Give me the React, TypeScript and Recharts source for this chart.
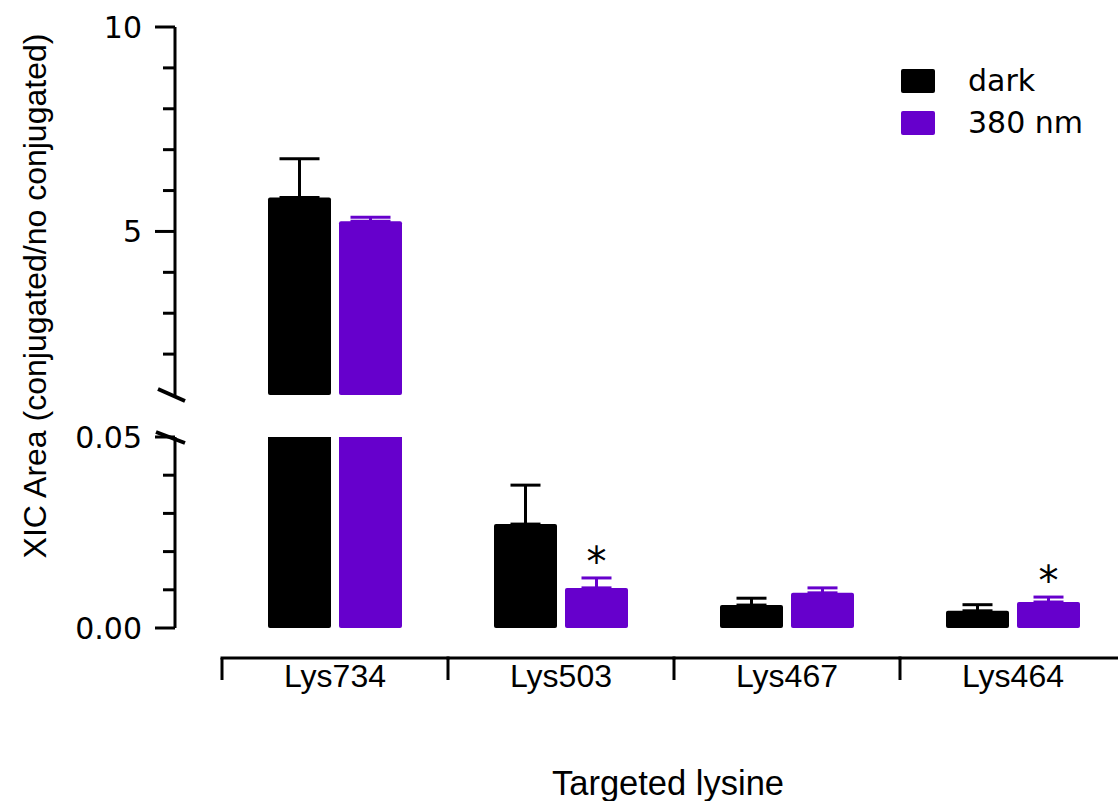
import { BarChart, Bar, XAxis, YAxis, ErrorBar, Legend, LabelList } from 'recharts'

const lysines = ['Lys734', 'Lys503', 'Lys467', 'Lys464']
const darkMean = [5.83, 0.0272, 0.006, 0.0045]
const darkSem = [0.95, 0.0102, 0.0018, 0.0016]
const nm380Mean = [5.25, 0.0105, 0.0092, 0.0068]
const nm380Sem = [0.1, 0.0026, 0.0013, 0.0013]
const nm380Signif = [false, true, false, true]

// broken y axis: upper segment 1..10, lower segment 0..0.05
const upperTicks = [1, 2, 3, 4, 5, 6, 7, 8, 9, 10]
const upperLabelled = [5, 10]
const lowerTicks = [0, 0.01, 0.02, 0.03, 0.04, 0.05]
const lowerLabelled = [0, 0.05]

const UPPER_MIN = upperTicks[0]

const data = lysines.map((name, i) => ({
  name,
  dark: darkMean[i],
  darkErr: [0, darkSem[i]],
  nm380: nm380Mean[i],
  nm380Err: [0, nm380Sem[i]],
}))

// error bars only where the bar reaches the upper segment
const upperData = data.map((d) => ({
  ...d,
  darkErr: d.dark > UPPER_MIN ? d.darkErr : undefined,
  nm380Err: d.nm380 > UPPER_MIN ? d.nm380Err : undefined,
}))

const PURPLE = '#6600cc'
const TICK_FONT = '"DejaVu Sans", Verdana, sans-serif'
const LABEL_FONT = '"Liberation Sans", Arial, sans-serif'
const W = 1130
const H = 801
const YAXIS_W = 175
const PAD_LEFT = 47

function UpperTick(props: any) {
  const { x, y, payload } = props
  const v = payload.value
  if (v === UPPER_MIN) {
    // axis break mark
    return <line x1={x - 17} y1={y - 6} x2={x + 10} y2={y + 6} stroke="#000" strokeWidth={4} />
  }
  const major = upperLabelled.includes(v)
  return (
    <g>
      <line x1={x - (major ? 20 : 12)} y1={y} x2={x} y2={y} stroke="#000" strokeWidth={3} />
      {major && (
        <text x={x - 33} y={y} dy="0.36em" textAnchor="end" fontSize={30} fontFamily={TICK_FONT} fill="#000">
          {v}
        </text>
      )}
    </g>
  )
}

function LowerTick(props: any) {
  const { x, y, payload } = props
  const v = payload.value
  const major = lowerLabelled.includes(v)
  const isTop = v === lowerTicks[lowerTicks.length - 1]
  return (
    <g>
      <line x1={x - (major ? 20 : 12)} y1={y} x2={x} y2={y} stroke="#000" strokeWidth={3} />
      {isTop && <line x1={x - 19} y1={y - 5} x2={x + 10} y2={y + 6} stroke="#000" strokeWidth={4} />}
      {major && (
        <text x={x - 33} y={y} dy="0.36em" textAnchor="end" fontSize={30} fontFamily={TICK_FONT} fill="#000">
          {v.toFixed(2)}
        </text>
      )}
    </g>
  )
}

function LysineTick(props: any) {
  const { x, y, payload } = props
  const half = payload.offset || 113
  const lineY = y + 30
  return (
    <g>
      <line x1={x - half} y1={lineY} x2={x + half} y2={lineY} stroke="#000" strokeWidth={3} strokeLinecap="square" />
      <line x1={x - half} y1={lineY} x2={x - half} y2={lineY + 22} stroke="#000" strokeWidth={3} />
      <text x={x} y={lineY + 29} textAnchor="middle" fontSize={32} fontFamily={LABEL_FONT} fill="#000">
        {payload.value}
      </text>
    </g>
  )
}

function StarLabel(props: any) {
  const vb = props.viewBox ?? props
  const { x, y, width, height } = vb
  const idx = props.index ?? nm380Mean.indexOf(props.value)
  if (!nm380Signif[idx]) return null
  const pxPerUnit = height / nm380Mean[idx]
  const capY = y - nm380Sem[idx] * pxPerUnit
  return (
    <text x={x + width / 2} y={capY - 2} textAnchor="middle" fontSize={40} fontFamily={TICK_FONT} fill="#000">
      *
    </text>
  )
}

function YTitle() {
  return (
    <text transform="translate(46,296) rotate(-90)" textAnchor="middle" fontSize={32} fontFamily={LABEL_FONT} fill="#000">
      XIC Area (conjugated/no conjugated)
    </text>
  )
}

function XTitle(props: any) {
  const vb = props.viewBox
  const cx = vb.x + PAD_LEFT + (vb.width - PAD_LEFT) / 2 - 6
  return (
    <text x={cx} y={795} textAnchor="middle" fontSize={34.5} fontFamily={LABEL_FONT} fill="#000">
      Targeted lysine
    </text>
  )
}

function LegendBox(props: any) {
  const { payload } = props
  return (
    <div style={{ fontFamily: TICK_FONT, fontSize: 30, color: '#000' }}>
      {(payload || []).map((entry: any) => (
        <div key={entry.value} style={{ display: 'flex', alignItems: 'center', height: 42 }}>
          <span style={{ display: 'inline-block', width: 34, height: 24, background: entry.color, borderRadius: 2, marginRight: 33 }} />
          <span style={{ lineHeight: '42px' }}>{entry.value}</span>
        </div>
      ))}
    </div>
  )
}

export default function App() {
  return (
    <div style={{ position: 'fixed', top: 0, left: 0, width: 1118, height: 801, overflow: 'hidden', background: '#fff' }}>
      <div style={{ position: 'absolute', top: 0, left: 0 }}>
        <BarChart width={W} height={H} data={upperData} margin={{ top: 27, right: 4, bottom: 406, left: 0 }} barSize={63} barGap={8}>
          <XAxis dataKey="name" hide padding={{ left: PAD_LEFT, right: 0 }} />
          <YAxis
            type="number"
            domain={[UPPER_MIN, 10]}
            ticks={upperTicks}
            interval={0}
            allowDataOverflow
            width={YAXIS_W}
            tickSize={0}
            tickMargin={0}
            tickLine={false}
            axisLine={{ stroke: '#000', strokeWidth: 3 }}
            tick={<UpperTick />}
            label={<YTitle />}
          />
          <Legend
            layout="vertical"
            align="center"
            verticalAlign="middle"
            itemSorter="dataKey"
            content={<LegendBox />}
            wrapperStyle={{ left: 901, top: 60, right: 'auto', bottom: 'auto', width: 220 }}
          />
          <Bar dataKey="dark" name="dark" fill="#000" radius={2} isAnimationActive={false}>
            <ErrorBar dataKey="darkErr" width={20} strokeWidth={3} stroke="#000" direction="y" />
          </Bar>
          <Bar dataKey="nm380" name="380 nm" fill={PURPLE} radius={2} isAnimationActive={false}>
            <ErrorBar dataKey="nm380Err" width={20} strokeWidth={3} stroke={PURPLE} direction="y" />
          </Bar>
        </BarChart>
      </div>
      <div style={{ position: 'absolute', top: 0, left: 0 }}>
        <BarChart width={W} height={H} data={data} margin={{ top: 437, right: 4, bottom: 0, left: 0 }} barSize={63} barGap={8}>
          <XAxis
            dataKey="name"
            padding={{ left: PAD_LEFT, right: 0 }}
            height={173}
            interval={0}
            tickSize={0}
            tickMargin={0}
            tickLine={false}
            axisLine={false}
            tick={<LysineTick />}
            label={<XTitle />}
          />
          <YAxis
            type="number"
            domain={[0, 0.05]}
            ticks={lowerTicks}
            interval={0}
            allowDataOverflow
            width={YAXIS_W}
            tickSize={0}
            tickMargin={0}
            tickLine={false}
            axisLine={{ stroke: '#000', strokeWidth: 3 }}
            tick={<LowerTick />}
          />
          <Bar dataKey="dark" name="dark" fill="#000" radius={2} isAnimationActive={false}>
            <ErrorBar dataKey="darkErr" width={15} strokeWidth={3} stroke="#000" direction="y" />
          </Bar>
          <Bar dataKey="nm380" name="380 nm" fill={PURPLE} radius={2} isAnimationActive={false}>
            <ErrorBar dataKey="nm380Err" width={15} strokeWidth={3} stroke={PURPLE} direction="y" />
            <LabelList dataKey="nm380" content={<StarLabel />} />
          </Bar>
        </BarChart>
      </div>
    </div>
  )
}
